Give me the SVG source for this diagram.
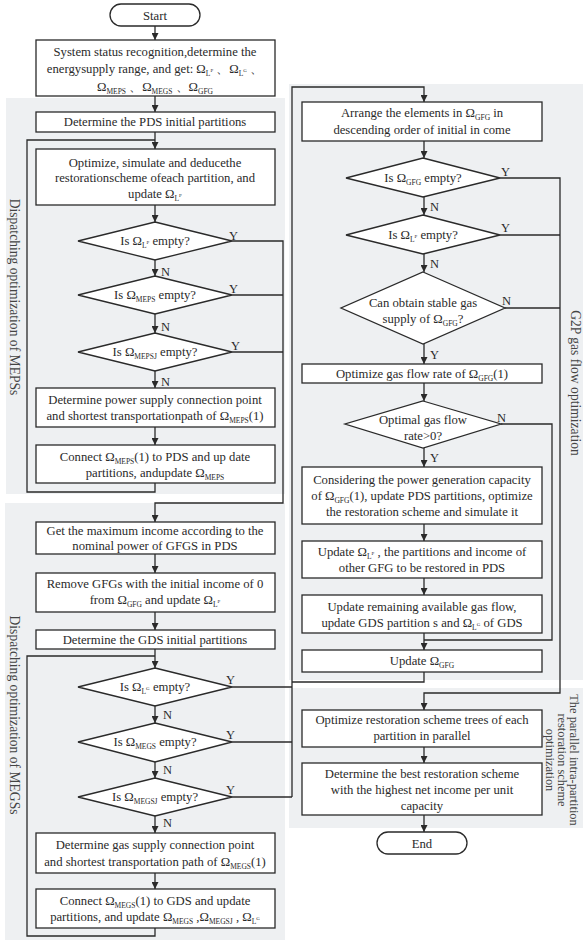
<svg xmlns="http://www.w3.org/2000/svg" width="586" height="943" viewBox="0 0 586 943">
<style>
.bg{fill:#fff}
.pn{fill:#eef0f2}
.bx{fill:#fff;stroke:#2a2a2a;stroke-width:1.3}
.t{font-family:"Liberation Serif","Times New Roman",serif;font-size:12.7px;fill:#2a2a2a;text-anchor:middle}
.lb{font-family:"Liberation Serif","Times New Roman",serif;font-size:12.5px;fill:#2a2a2a}
.rt{font-family:"Liberation Serif","Times New Roman",serif;font-size:13.6px;fill:#444;text-anchor:middle}
.rs{font-size:12.4px}
.sb{font-size:7.5px}
.sp{font-size:5px}
.c{fill:none;stroke:#2a2a2a;stroke-width:1.3}
</style>
<defs>
<marker id="ar" viewBox="0 0 10 10" refX="10" refY="5" markerWidth="7" markerHeight="7" markerUnits="userSpaceOnUse" orient="auto">
<path d="M0,0 L10,5 L0,10 z" fill="#2a2a2a"/>
</marker>
</defs>
<rect class="bg" x="0" y="0" width="586" height="943"/>
<g id="panels">
<rect class="pn" x="6" y="98" width="279" height="396"/>
<rect class="pn" x="5" y="503" width="280" height="437"/>
<rect class="pn" x="289" y="84" width="294" height="596"/>
<rect class="pn" x="289" y="688" width="294" height="140"/>
</g>
<g id="labels">
<text class="rt" transform="translate(10,297) rotate(90)">Dispatching optimization of MEPSs</text>
<text class="rt" transform="translate(10,715) rotate(90)">Dispatching optimization of MEGSs</text>
<text class="rt" transform="translate(571,383) rotate(90)">G2P gas flow optimization</text>
<text class="rt rs" transform="translate(570,760) rotate(90)">The parallel intra-partition</text>
<text class="rt rs" transform="translate(558,760) rotate(90)">restoration scheme</text>
<text class="rt rs" transform="translate(546,760) rotate(90)">optimization</text>
</g>
<g id="connectors">
<line class="c" x1="155" y1="26" x2="155" y2="40" marker-end="url(#ar)"/>
<line class="c" x1="155" y1="96" x2="155" y2="112" marker-end="url(#ar)"/>
<line class="c" x1="155" y1="132" x2="155" y2="149" marker-end="url(#ar)"/>
<path class="c" d="M155,483 V492 H27 V140 H155"/>
<line class="c" x1="155" y1="205" x2="155" y2="222" marker-end="url(#ar)"/>
<line class="c" x1="155" y1="260" x2="155" y2="276" marker-end="url(#ar)"/>
<line class="c" x1="155" y1="314" x2="155" y2="333" marker-end="url(#ar)"/>
<line class="c" x1="155" y1="371" x2="155" y2="388" marker-end="url(#ar)"/>
<line class="c" x1="155" y1="427" x2="155" y2="445" marker-end="url(#ar)"/>
<path class="c" d="M232,241 H283 V503 H155 V522" marker-end="url(#ar)"/>
<path class="c" d="M232,295 H283"/>
<path class="c" d="M232,352 H283"/>
<line class="c" x1="155" y1="554" x2="155" y2="573" marker-end="url(#ar)"/>
<line class="c" x1="155" y1="612" x2="155" y2="630" marker-end="url(#ar)"/>
<line class="c" x1="155" y1="649" x2="155" y2="668" marker-end="url(#ar)"/>
<path class="c" d="M155,928 V936 H27 V656 H155"/>
<line class="c" x1="155" y1="706" x2="155" y2="723" marker-end="url(#ar)"/>
<line class="c" x1="155" y1="762" x2="155" y2="778" marker-end="url(#ar)"/>
<line class="c" x1="155" y1="816" x2="155" y2="833" marker-end="url(#ar)"/>
<line class="c" x1="155" y1="873" x2="155" y2="889" marker-end="url(#ar)"/>
<path class="c" d="M232,687 H292"/>
<path class="c" d="M232,742 H292"/>
<path class="c" d="M232,797 H292"/>
<path class="c" d="M292,797 V87 H424 V102" marker-end="url(#ar)"/>
<path class="c" d="M424,672 V682 H292"/>
<line class="c" x1="424" y1="141" x2="424" y2="158" marker-end="url(#ar)"/>
<line class="c" x1="424" y1="197" x2="424" y2="215" marker-end="url(#ar)"/>
<line class="c" x1="424" y1="254" x2="424" y2="272" marker-end="url(#ar)"/>
<line class="c" x1="424" y1="344" x2="424" y2="364" marker-end="url(#ar)"/>
<line class="c" x1="424" y1="383" x2="424" y2="401" marker-end="url(#ar)"/>
<line class="c" x1="424" y1="448" x2="424" y2="467" marker-end="url(#ar)"/>
<line class="c" x1="424" y1="524" x2="424" y2="541" marker-end="url(#ar)"/>
<line class="c" x1="424" y1="578" x2="424" y2="595" marker-end="url(#ar)"/>
<line class="c" x1="424" y1="633" x2="424" y2="650" marker-end="url(#ar)"/>
<path class="c" d="M500,178 H560 V693 H424 V710" marker-end="url(#ar)"/>
<path class="c" d="M500,235 H560"/>
<path class="c" d="M505,308 H560"/>
<path class="c" d="M501,424 H552 V640 H424"/>
<line class="c" x1="424" y1="747" x2="424" y2="763" marker-end="url(#ar)"/>
<line class="c" x1="424" y1="815" x2="424" y2="832" marker-end="url(#ar)"/>
<text class="lb" x="229" y="240">Y</text>
<text class="lb" x="229" y="293">Y</text>
<text class="lb" x="231" y="350">Y</text>
<text class="lb" x="161" y="276">N</text>
<text class="lb" x="161" y="331">N</text>
<text class="lb" x="161" y="386">N</text>
<text class="lb" x="226" y="684">Y</text>
<text class="lb" x="226" y="739">Y</text>
<text class="lb" x="226" y="794">Y</text>
<text class="lb" x="163" y="719">N</text>
<text class="lb" x="163" y="774">N</text>
<text class="lb" x="163" y="827">N</text>
<text class="lb" x="501" y="176">Y</text>
<text class="lb" x="501" y="232">Y</text>
<text class="lb" x="430" y="211">N</text>
<text class="lb" x="430" y="268">N</text>
<text class="lb" x="502" y="305">N</text>
<text class="lb" x="430" y="359">Y</text>
<text class="lb" x="497" y="422">N</text>
<text class="lb" x="430" y="462">Y</text>
</g>
<g id="start">
<rect class="bx" x="110" y="4" width="90" height="22" rx="11"/>
<text class="t" x="155" y="19.5">Start</text>
</g>
<g id="recognize">
<rect class="bx" x="36" y="40" width="239" height="56"/>
<text class="t" x="155" y="56">System status recognition,determine the</text>
<text class="t" x="155" y="73">energysupply range, and get:  Ω<tspan class="sb" dy="3">L</tspan><tspan class="sp" dy="-4">P</tspan><tspan dy="1"> 、Ω</tspan><tspan class="sb" dy="3">L</tspan><tspan class="sp" dy="-4">G</tspan><tspan dy="1"> 、</tspan></text>
<text class="t" x="155" y="91">Ω<tspan class="sb" dy="3">MEPS</tspan><tspan dy="-3"> 、Ω</tspan><tspan class="sb" dy="3">MEGS</tspan><tspan dy="-3"> 、Ω</tspan><tspan class="sb" dy="3">GFG</tspan></text>
</g>
<g id="pds-init">
<rect class="bx" x="36" y="112" width="239" height="20"/>
<text class="t" x="155" y="126">Determine the PDS initial partitions</text>
</g>
<g id="optimize-pds">
<rect class="bx" x="36" y="149" width="239" height="56"/>
<text class="t" x="155" y="167">Optimize, simulate and deducethe</text>
<text class="t" x="155" y="182">restorationscheme ofeach partition, and</text>
<text class="t" x="155" y="198">update Ω<tspan class="sb" dy="3">L</tspan><tspan class="sp" dy="-4">P</tspan></text>
</g>
<g id="d-lp">
<polygon class="bx" points="155,222 232,241 155,260 78,241"/>
<text class="t" x="155" y="245">Is Ω<tspan class="sb" dy="3">L</tspan><tspan class="sp" dy="-4">P</tspan><tspan dy="1"> empty?</tspan></text>
</g>
<g id="d-meps">
<polygon class="bx" points="155,276 232,295 155,314 78,295"/>
<text class="t" x="155" y="299">Is Ω<tspan class="sb" dy="3">MEPS</tspan><tspan dy="-3"> empty?</tspan></text>
</g>
<g id="d-mepsj">
<polygon class="bx" points="155,333 232,352 155,371 78,352"/>
<text class="t" x="155" y="356">Is Ω<tspan class="sb" dy="3">MEPSJ</tspan><tspan dy="-3"> empty?</tspan></text>
</g>
<g id="power-point">
<rect class="bx" x="36" y="388" width="239" height="39"/>
<text class="t" x="155" y="404">Determine power supply connection point</text>
<text class="t" x="155" y="420">and shortest transportationpath of  Ω<tspan class="sb" dy="3">MEPS</tspan><tspan dy="-3">(1)</tspan></text>
</g>
<g id="connect-meps">
<rect class="bx" x="36" y="445" width="239" height="38"/>
<text class="t" x="155" y="461">Connect Ω<tspan class="sb" dy="3">MEPS</tspan><tspan dy="-3">(1)  to PDS and up date</tspan></text>
<text class="t" x="155" y="477">partitions, andupdate  Ω<tspan class="sb" dy="3">MEPS</tspan></text>
</g>
<g id="max-income">
<rect class="bx" x="36" y="522" width="239" height="32"/>
<text class="t" x="155" y="535">Get the maximum income according to the</text>
<text class="t" x="155" y="550">nominal power of GFGS in PDS</text>
</g>
<g id="remove-gfg">
<rect class="bx" x="36" y="573" width="239" height="39"/>
<text class="t" x="155" y="588">Remove GFGs with the initial income of  0</text>
<text class="t" x="155" y="604">from  Ω<tspan class="sb" dy="3">GFG</tspan><tspan dy="-3"> and update   Ω</tspan><tspan class="sb" dy="3">L</tspan><tspan class="sp" dy="-4">P</tspan></text>
</g>
<g id="gds-init">
<rect class="bx" x="36" y="630" width="239" height="19"/>
<text class="t" x="155" y="643.5">Determine the GDS initial partitions</text>
</g>
<g id="d-lg">
<polygon class="bx" points="155,668 232,687 155,706 78,687"/>
<text class="t" x="155" y="691">Is Ω<tspan class="sb" dy="3">L</tspan><tspan class="sp" dy="-4">G</tspan><tspan dy="1"> empty?</tspan></text>
</g>
<g id="d-megs">
<polygon class="bx" points="155,723 232,742 155,762 78,742"/>
<text class="t" x="155" y="746">Is  Ω<tspan class="sb" dy="3">MEGS</tspan><tspan dy="-3"> empty?</tspan></text>
</g>
<g id="d-megsj">
<polygon class="bx" points="155,778 232,797 155,816 78,797"/>
<text class="t" x="155" y="801">Is Ω<tspan class="sb" dy="3">MEGSJ</tspan><tspan dy="-3"> empty?</tspan></text>
</g>
<g id="gas-point">
<rect class="bx" x="36" y="833" width="239" height="40"/>
<text class="t" x="155" y="849">Determine gas supply connection point</text>
<text class="t" x="155" y="866">and shortest  transportation  path of Ω<tspan class="sb" dy="3">MEGS</tspan><tspan dy="-3">(1)</tspan></text>
</g>
<g id="connect-megs">
<rect class="bx" x="36" y="889" width="239" height="39"/>
<text class="t" x="155" y="905">Connect  Ω<tspan class="sb" dy="3">MEGS</tspan><tspan dy="-3">(1) to GDS and update</tspan></text>
<text class="t" x="155" y="921">partitions, and update Ω<tspan class="sb" dy="3">MEGS</tspan><tspan dy="-3">  ,Ω</tspan><tspan class="sb" dy="3">MEGSJ</tspan><tspan dy="-3"> , Ω</tspan><tspan class="sb" dy="3">L</tspan><tspan class="sp" dy="-4">G</tspan></text>
</g>
<g id="arrange">
<rect class="bx" x="302" y="102" width="240" height="39"/>
<text class="t" x="422" y="117">Arrange the elements in  Ω<tspan class="sb" dy="3">GFG</tspan><tspan dy="-3">  in</tspan></text>
<text class="t" x="422" y="134">descending order of initial in come</text>
</g>
<g id="d-gfg">
<polygon class="bx" points="423,158 500,178 423,197 346,178"/>
<text class="t" x="423" y="182">Is  Ω<tspan class="sb" dy="3">GFG</tspan><tspan dy="-3"> empty?</tspan></text>
</g>
<g id="d-lp2">
<polygon class="bx" points="423,215 500,235 423,254 346,235"/>
<text class="t" x="423" y="239">Is Ω<tspan class="sb" dy="3">L</tspan><tspan class="sp" dy="-4">P</tspan><tspan dy="1"> empty?</tspan></text>
</g>
<g id="d-stable">
<polygon class="bx" points="423,272 505,308 423,344 341,308"/>
<text class="t" x="423" y="307">Can obtain stable gas</text>
<text class="t" x="423" y="323">supply of Ω<tspan class="sb" dy="3">GFG</tspan><tspan dy="-3">?</tspan></text>
</g>
<g id="gas-rate">
<rect class="bx" x="302" y="364" width="240" height="19"/>
<text class="t" x="422" y="378">Optimize gas flow rate of  Ω<tspan class="sb" dy="3">GFG</tspan><tspan dy="-3">(1)</tspan></text>
</g>
<g id="d-optimal">
<polygon class="bx" points="423,401 501,424 423,448 345,424"/>
<text class="t" x="423" y="424">Optimal gas flow</text>
<text class="t" x="423" y="440">rate&gt;0?</text>
</g>
<g id="considering">
<rect class="bx" x="302" y="467" width="240" height="57"/>
<text class="t" x="422" y="484">Considering the power generation capacity</text>
<text class="t" x="422" y="500">of Ω<tspan class="sb" dy="3">GFG</tspan><tspan dy="-3">(1), update PDS partitions, optimize</tspan></text>
<text class="t" x="422" y="516">the restoration scheme and simulate it</text>
</g>
<g id="update-lp">
<rect class="bx" x="302" y="541" width="240" height="37"/>
<text class="t" x="422" y="556">Update Ω<tspan class="sb" dy="3">L</tspan><tspan class="sp" dy="-4">P</tspan><tspan dy="1"> , the partitions  and income  of</tspan></text>
<text class="t" x="422" y="572">other GFG to be restored in PDS</text>
</g>
<g id="update-gas">
<rect class="bx" x="302" y="595" width="240" height="38"/>
<text class="t" x="422" y="611">Update remaining available gas flow,</text>
<text class="t" x="422" y="627">update GDS partition s and   Ω<tspan class="sb" dy="3">L</tspan><tspan class="sp" dy="-4">G</tspan><tspan dy="1"> of GDS</tspan></text>
</g>
<g id="update-gfg">
<rect class="bx" x="302" y="650" width="240" height="22"/>
<text class="t" x="422" y="665">Update  Ω<tspan class="sb" dy="3">GFG</tspan></text>
</g>
<g id="trees">
<rect class="bx" x="302" y="710" width="240" height="37"/>
<text class="t" x="422" y="724">Optimize restoration scheme trees of each</text>
<text class="t" x="422" y="740">partition in parallel</text>
</g>
<g id="best">
<rect class="bx" x="302" y="763" width="240" height="52"/>
<text class="t" x="422" y="778">Determine the best restoration scheme</text>
<text class="t" x="422" y="794">with the highest net income per unit</text>
<text class="t" x="422" y="810">capacity</text>
</g>
<g id="end">
<rect class="bx" x="377" y="832" width="90" height="22" rx="11"/>
<text class="t" x="422" y="847.5">End</text>
</g>
</svg>
